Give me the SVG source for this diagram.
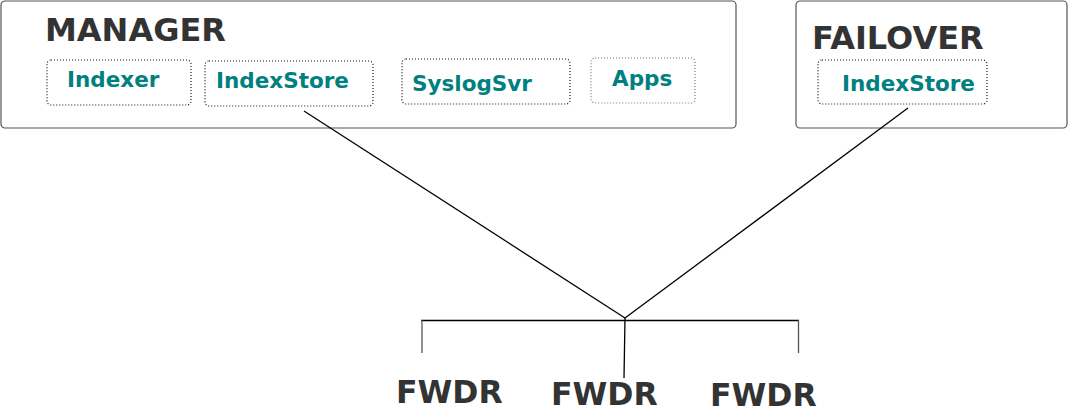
<svg xmlns="http://www.w3.org/2000/svg" width="1068" height="407" viewBox="0 0 1068 407">
<style>
.big{font-family:"DejaVu Sans",sans-serif;font-weight:bold;fill:#333333}
.comp{font-family:"DejaVu Sans",sans-serif;font-weight:bold;fill:#008080;font-size:21.5px}
.host{fill:#ffffff;stroke:#555555;stroke-width:1.2}
.svc{fill:none;stroke:#111111;stroke-width:1.2;stroke-dasharray:1 2}
.conn{stroke:#000000;stroke-width:1.3;fill:none}
.tick{stroke:#555555;stroke-width:1.3;fill:none}
</style>
<rect width="1068" height="407" fill="#ffffff"/>
<g id="manager">
<rect class="host" x="1" y="1" width="735" height="127" rx="4"/>
<text class="big" x="45" y="41" font-size="32">MANAGER</text>
</g>
<g id="indexer">
<rect class="svc" x="47" y="60" width="144" height="45" rx="4"/>
<text class="comp" x="67" y="87">Indexer</text>
</g>
<g id="indexstore-manager">
<rect class="svc" x="205" y="61" width="168" height="45" rx="4"/>
<text class="comp" x="216" y="88">IndexStore</text>
</g>
<g id="syslogsvr">
<rect class="svc" x="402" y="59" width="168" height="45" rx="4"/>
<text class="comp" x="412" y="91">SyslogSvr</text>
</g>
<g id="apps">
<rect class="svc" x="591" y="58" width="104" height="45" rx="4" style="stroke:#777777"/>
<text class="comp" x="612" y="86">Apps</text>
</g>
<g id="failover">
<rect class="host" x="796" y="1" width="271" height="127" rx="4"/>
<text class="big" x="812" y="49" font-size="32">FAILOVER</text>
</g>
<g id="indexstore-failover">
<rect class="svc" x="818" y="60" width="169" height="44" rx="4"/>
<text class="comp" x="842" y="91">IndexStore</text>
</g>
<g id="fwdr1"><text class="big" x="396" y="403" font-size="31.5">FWDR</text></g>
<g id="fwdr2"><text class="big" x="551" y="405" font-size="31.5">FWDR</text></g>
<g id="fwdr3"><text class="big" x="710" y="406" font-size="31.5">FWDR</text></g>
<g id="connectors">
<line class="conn" x1="304" y1="111" x2="625" y2="318"/>
<line class="conn" x1="908" y1="108" x2="625" y2="318"/>
<line class="conn" x1="421" y1="320.5" x2="799" y2="320.5"/>
<line class="conn" x1="625" y1="318" x2="624" y2="378"/>
<line class="tick" x1="422" y1="320" x2="422" y2="353"/>
<line class="tick" x1="798.5" y1="320" x2="798.5" y2="353"/>
</g>
</svg>
